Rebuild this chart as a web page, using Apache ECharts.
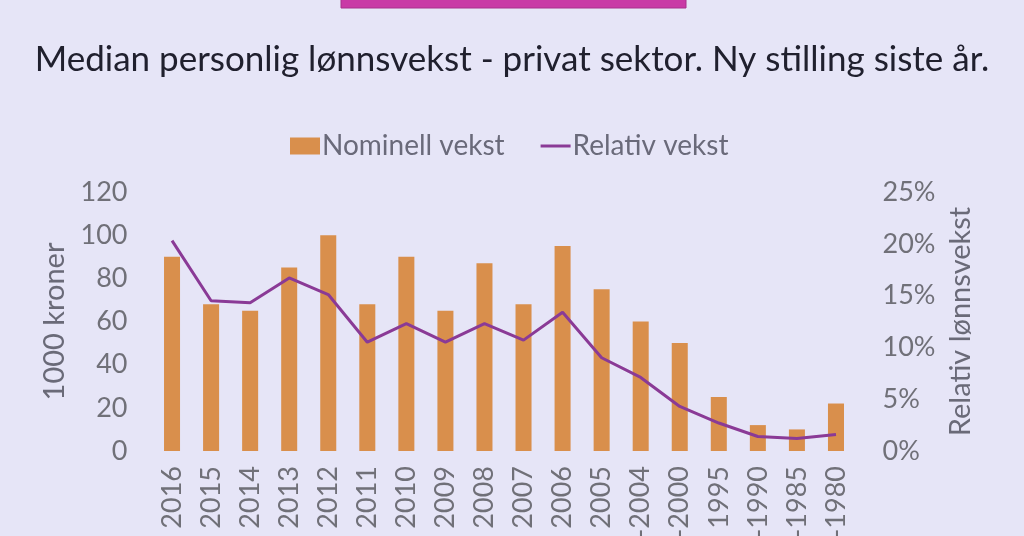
<!DOCTYPE html>
<html>
<head>
<meta charset="utf-8">
<script src="https://cdn.jsdelivr.net/npm/echarts@6/dist/echarts.min.js"></script>
<style>
html,body{margin:0;padding:0;background:#e6e5f7;}
#c{width:1024px;height:536px;}
</style>
</head>
<body>
<div id="c"></div>
<script>
const titleText = 'Median personlig lønnsvekst - privat sektor. Ny stilling siste år.';
const categories = ['2016','2015','2014','2013','2012','2011','2010','2009','2008','2007','2006','2005','-2004','-2000','1995','-1990','-1985','-1980'];
const nominellVekst = [90,68,65,85,100,68,90,65,87,68,95,75,60,50,25,12,10,22];
const relativVekst = [20.3,14.5,14.3,16.7,15.1,10.5,12.3,10.5,12.3,10.7,13.4,9.0,7.1,4.3,2.7,1.4,1.2,1.6];
const leftTicks = {min:0,max:120,interval:20};
const rightTicks = {min:0,max:25,interval:5};

const FONT = 'Lato';
const chart = echarts.init(document.getElementById('c'), null, {renderer:'canvas'});
chart.setOption({
  backgroundColor:'#e6e5f7',
  animation:false,
  title:{
    text:titleText, left:'center', top:37,
    textStyle:{fontFamily:FONT, fontSize:35, fontWeight:'normal', color:'#20202e'}
  },
  graphic:[{
    type:'rect', shape:{x:341,y:-10,width:345,height:18},
    style:{fill:'#c93aa6', stroke:'#a8308c', lineWidth:1}
  }],
  legend:{
    left:285, top:127, itemWidth:30, itemHeight:17, itemGap:36, symbolKeepAspect:true,
    textStyle:{fontFamily:FONT, fontSize:28, color:'#6a6a7a', padding:[0,0,0,-3]},
    data:[{name:'Nominell vekst', icon:'rect'},{name:'Relativ vekst', icon:'path://M0,0H30V3H0Z'}]
  },
  grid:{left:152.5, right:168.5, top:192, bottom:85, containLabel:false, outerBoundsMode:'none'},
  xAxis:{
    type:'category', data:categories,
    axisLine:{show:false}, axisTick:{show:false},
    axisLabel:{rotate:90, margin:15, fontFamily:FONT, fontSize:27, color:'#707078', interval:0}
  },
  yAxis:[{
    type:'value', min:leftTicks.min, max:leftTicks.max, interval:leftTicks.interval,
    name:'1000 kroner', nameLocation:'middle', nameRotate:90, nameGap:80,
    nameTextStyle:{fontFamily:FONT, fontSize:29, color:'#6a6a78'},
    splitLine:{show:false}, axisLine:{show:false}, axisTick:{show:false},
    axisLabel:{margin:25, fontFamily:FONT, fontSize:27, color:'#707078'}
  },{
    type:'value', min:rightTicks.min, max:rightTicks.max, interval:rightTicks.interval,
    name:'Relativ lønnsvekst', nameLocation:'middle', nameRotate:90, nameGap:91,
    nameTextStyle:{fontFamily:FONT, fontSize:29, color:'#6a6a78'},
    splitLine:{show:false}, axisLine:{show:false}, axisTick:{show:false},
    axisLabel:{margin:27, fontFamily:FONT, fontSize:27, color:'#707078', formatter:'{value}%'}
  }],
  series:[{
    name:'Nominell vekst', type:'bar', data:nominellVekst, yAxisIndex:0,
    barWidth:'41%', itemStyle:{color:'#d98f4c'}
  },{
    name:'Relativ vekst', type:'line', data:relativVekst, yAxisIndex:1,
    symbol:'none', lineStyle:{color:'#8a3a96', width:3}, itemStyle:{color:'#8a3a96'}
  }]
});
</script>
</body>
</html>
